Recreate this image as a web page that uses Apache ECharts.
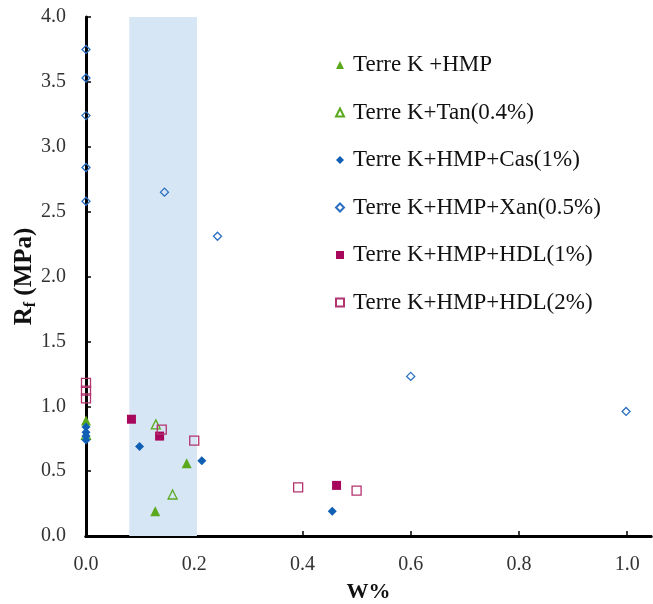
<!DOCTYPE html>
<html><head><meta charset="utf-8">
<script src="https://cdn.jsdelivr.net/npm/echarts@6/dist/echarts.min.js"></script>
<style>html,body{margin:0;padding:0;background:#fff}#c{width:653px;height:604px}</style>
</head><body><div id="c"></div>
<script>
const seriesNames = ['Terre K +HMP','Terre K+Tan(0.4%)','Terre K+HMP+Cas(1%)','Terre K+HMP+Xan(0.5%)','Terre K+HMP+HDL(1%)','Terre K+HMP+HDL(2%)'];
const hmp = [[0,0.89],[0.128,0.19],[0.186,0.56]];
const tan = [[0,0.78],[0.129,0.86],[0.16,0.32]];
const cas = [[0,0.84],[0,0.80],[0,0.77],[0,0.74],[0.099,0.69],[0.214,0.58],[0.455,0.19]];
const xan = [[0,3.75],[0,3.53],[0,3.24],[0,2.84],[0,2.58],[0.145,2.65],[0.243,2.31],[0.6,1.23],[0.998,0.96]];
const hdl1 = [[0.084,0.90],[0.136,0.77],[0.463,0.39]];
const hdl2 = [[0,1.18],[0,1.12],[0,1.06],[0.14,0.82],[0.2,0.735],[0.392,0.375],[0.5,0.35]];
const band = [0.08, 0.205];
const xTicks = [0,0.2,0.4,0.6,0.8,1.0];
const yTicks = [0,0.5,1,1.5,2,2.5,3,3.5,4];

const serif = 'Liberation Serif';
const chart = echarts.init(document.getElementById('c'));
function sc(name, data, symbol, size, fill, border){
  return {name, type:'scatter', data, symbol, symbolSize:size,
    itemStyle:{color:fill, borderColor:border, borderWidth: fill==='transparent'?1.3:0, opacity:1}};
}
const s = [
  sc(seriesNames[0], hmp, 'triangle', 10, '#5aa91c', '#5aa91c'),
  sc(seriesNames[1], tan, 'triangle', 9, 'transparent', '#5aa91c'),
  sc(seriesNames[2], cas, 'diamond', 9, '#0f5fb4', '#0f5fb4'),
  sc(seriesNames[3], xan, 'diamond', 8, 'transparent', '#2a6fc2'),
  sc(seriesNames[4], hdl1, 'rect', 9, '#a8085c', '#a8085c'),
  sc(seriesNames[5], hdl2, 'rect', 9, 'transparent', '#b3336f')
];
s.unshift({type:'scatter', data:[], silent:true, z:0,
  markArea:{silent:true, itemStyle:{color:'#d6e6f4'}, data:[[{xAxis:band[0]},{xAxis:band[1]}]]}});
chart.setOption({
  animation:false,
  grid:{left:86, right:2, top:17, bottom:68, containLabel:false, outerBoundsMode:'none'},
  legend:{orient:'vertical', left:330, top:48, itemGap:23.5, itemWidth:8, itemHeight:8,
    textStyle:{fontFamily:serif, fontSize:23, lineHeight:24, color:'#111', padding:[0,0,0,4]},
    data: seriesNames},
  xAxis:[{type:'value', min:0, max:1.044, interval:0.2,
    name:'W%', nameLocation:'middle', nameGap:45, nameMoveOverlap:false,
    nameTextStyle:{fontFamily:serif, fontSize:22, fontWeight:'bold', color:'#111'},
    axisLine:{show:true, onZero:false, lineStyle:{color:'#000', width:3}},
    axisTick:{show:true, inside:true, length:5, lineStyle:{color:'#000', width:1.5}},
    axisLabel:{margin:19, fontFamily:serif, fontSize:20, color:'#333', showMaxLabel:false,
      formatter:v=> xTicks.some(t=>Math.abs(t-v)<1e-9)? v.toFixed(1):''},
    splitLine:{show:false}},
    {type:'value', position:'top', min:0, max:1.044, axisLine:{show:true, lineStyle:{color:'#000', width:3}},
     axisTick:{show:false}, axisLabel:{show:false}, splitLine:{show:false}}],
  yAxis:{type:'value', min:0, max:4, interval:0.5,
    name:'{a|R}{b|f}{a| (MPa)}', nameLocation:'middle', nameGap:47, nameMoveOverlap:false,
    nameTextStyle:{rich:{a:{fontFamily:serif, fontSize:25, fontWeight:'bold', color:'#111'},
      b:{fontFamily:serif, fontSize:16, fontWeight:'bold', color:'#111', verticalAlign:'bottom', padding:[12,0,0,0]}}},
    axisLine:{show:true, onZero:false, lineStyle:{color:'#000', width:3}},
    axisTick:{show:true, inside:true, length:5, lineStyle:{color:'#000', width:1.5}},
    axisLabel:{margin:20, fontFamily:serif, fontSize:20, color:'#333', formatter:v=>v.toFixed(1)},
    splitLine:{show:false}},
  series: s
});
</script></body></html>
